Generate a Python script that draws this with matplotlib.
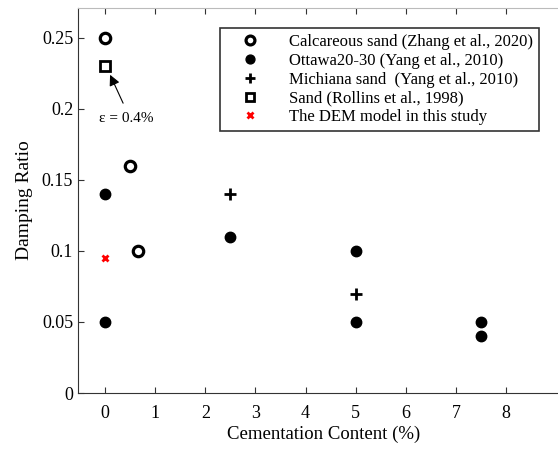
import numpy as np
import matplotlib
matplotlib.use("Agg")
import matplotlib.pyplot as plt

plt.rcParams['font.family'] = ['Liberation Serif', 'DejaVu Serif']

# calcareous sand (Zhang et al., 2020)
calc_x = [0, 0.5, 0.65]
calc_y = [0.25, 0.16, 0.10]
# Ottawa20-30 (Yang et al., 2010)
ott_x = [0, 0, 2.5, 5, 5, 7.5, 7.5]
ott_y = [0.14, 0.05, 0.11, 0.10, 0.05, 0.05, 0.04]
# Michiana sand (Yang et al., 2010)
mich_x = [2.5, 5]
mich_y = [0.14, 0.07]
# Sand (Rollins et al., 1998)
roll_x = [0]
roll_y = [0.23]
# DEM model
dem_x = [0]
dem_y = [0.095]

xticks = np.arange(0, 9)
yticks = [0, 0.05, 0.1, 0.15, 0.2, 0.25]
yticklabels = ['0', '0.05', '0.1', '0.15', '0.2', '0.25']

fig = plt.figure(figsize=(5.58, 4.49), dpi=100)
ax = fig.add_axes([78/558, 1 - 393/449, 1 - 78/558 + 0.02, (393 - 8)/449])

ax.plot(calc_x, calc_y, 'o', ms=7.5, mfc='none', mec='black', mew=2.3, ls='none',
        label='Calcareous sand (Zhang et al., 2020)')
ax.plot(ott_x, ott_y, 'o', ms=7.5, color='black', ls='none',
        label='Ottawa20-30 (Yang et al., 2010)')
ax.plot(mich_x, mich_y, '+', ms=8, mew=2.0, color='black', ls='none',
        label='Michiana sand  (Yang et al., 2010)')
ax.plot(roll_x, roll_y, 's', ms=6.5, mfc='none', mec='black', mew=2.0, ls='none',
        label='Sand (Rollins et al., 1998)')
ax.plot(dem_x, dem_y, 'x', ms=5, mew=2.0, color='red', ls='none',
        label='The DEM model in this study')

ax.annotate('', xy=(0.1, 0.224), xytext=(0.36, 0.204),
            arrowprops=dict(arrowstyle='-|>', color='black', lw=0.8,
                            mutation_scale=16, shrinkA=0, shrinkB=0))
ax.text(0.43, 0.193, 'ε = 0.4%', fontsize=11, ha='center', va='center')

ax.set_xlim(-0.54, 9.26)
ax.set_ylim(0, 0.271)
ax.set_xticks(xticks)
ax.set_yticks(yticks)
ax.set_yticklabels(yticklabels)
ax.tick_params(direction='in', labelsize=13, top=True, length=4, color='#333333')
ax.tick_params(axis='x', pad=9)
ax.spines['right'].set_visible(False)
ax.spines['top'].set_color('#bbbbbb')
for s in ['left', 'bottom']:
    ax.spines[s].set_color('#333333')
ax.set_xlabel('Cementation Content (%)', fontsize=13.5, labelpad=2)
ax.set_ylabel('Damping Ratio', fontsize=14, labelpad=6)

leg = ax.legend(loc='upper left', bbox_to_anchor=((220 - 78) / 491, (393 - 28) / 385),
                fontsize=12, frameon=True, fancybox=False, edgecolor='black',
                handletextpad=0.9, labelspacing=0.17, borderpad=0.35, handlelength=2.9,
                markerscale=0.85, borderaxespad=0)
leg.get_frame().set_linewidth(1.2)

fig.savefig('out.png', dpi=100)
